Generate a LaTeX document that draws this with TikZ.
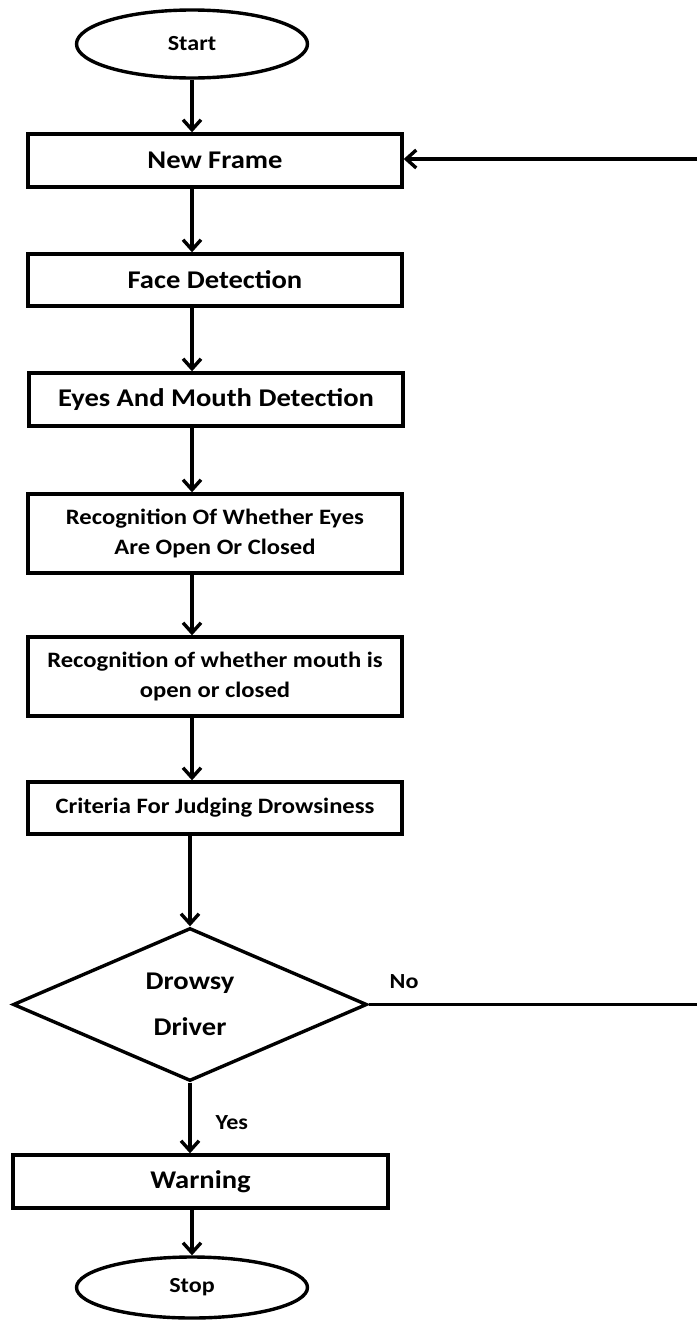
\documentclass[tikz,border=0pt]{standalone}
\usepackage{fontspec}
\setmainfont{Carlito}[FakeStretch=1.12]
\usetikzlibrary{shapes.geometric,arrows.meta}

\begin{document}
\begin{tikzpicture}[x=1pt,y=-1pt,
  line width=3.4pt,
  bigtxt/.style={font=\bfseries\fontsize{25.5}{30}\selectfont},
  smalltxt/.style={font=\bfseries\fontsize{22}{30}\selectfont},
  flowbox/.style={draw, rectangle, minimum width=374pt, inner sep=0pt, align=center},
  term/.style={draw, ellipse, minimum width=231pt, inner sep=0pt,
               font=\bfseries\fontsize{21.5}{26}\selectfont},
  decide/.style={draw, diamond, minimum width=354pt, minimum height=153pt,
                 inner sep=0pt, align=center, font=\bfseries\fontsize{25.5}{46}\selectfont},
  lbl/.style={inner sep=0pt, font=\bfseries\fontsize{21.5}{26}\selectfont},
  arr/.style={-{Straight Barb[length=10pt,width=18pt]}}
]
\useasboundingbox (0,0) rectangle (697,1320);

% process steps
\node[term, minimum height=68pt] (start) at (192,44) {Start};
\node[flowbox, bigtxt, minimum height=53pt] (nf) at (215,160.5) {New Frame};
\node[flowbox, bigtxt, minimum height=52pt] (fd) at (215,280) {Face Detection};
\node[flowbox, bigtxt, minimum height=53pt] (em) at (216,399.5) {Eyes And Mouth Detection};
\node[flowbox, smalltxt, minimum height=79pt] (re) at (215,533.5) {Recognition Of Whether Eyes\\Are Open Or Closed};
\node[flowbox, smalltxt, minimum height=79pt] (rm) at (215,676.5) {Recognition of whether mouth is\\open or closed};
\node[flowbox, smalltxt, minimum height=52pt] (cj) at (215,808) {Criteria For Judging Drowsiness};
\node[decide] (dd) at (190,1004.5) {Drowsy\\Driver};
\node[flowbox, bigtxt, minimum width=375pt, minimum height=53pt] (warn) at (200.5,1181.5) {Warning};
\node[term, minimum height=61pt] (stop) at (192,1287.5) {Stop};

% branch labels
\node[lbl, anchor=west] (nolbl) at (388,982) {No};
\node[lbl, anchor=west] (yeslbl) at (214,1123) {Yes};

% loop ends running off the right edge
\coordinate (loopin) at (697,159);
\coordinate (loopout) at (697,1004.5);

% main flow
\draw[arr] (start.south) -- (start.south |- nf.north);
\draw[arr] (nf.south -| start.south) -- (start.south |- fd.north);
\draw[arr] (fd.south -| start.south) -- (start.south |- em.north);
\draw[arr] (em.south -| start.south) -- (start.south |- re.north);
\draw[arr] (re.south -| start.south) -- (start.south |- rm.north);
\draw[arr] (rm.south -| start.south) -- (start.south |- cj.north);
\draw[arr] (cj.south -| dd.north) -- (dd.north);
\draw[arr] (dd.south) -- (dd.south |- warn.north);
\draw[arr] (warn.south -| start.south) -- (stop.north);

% "No" branch back to a new frame
\draw (dd.east) -- (loopout);
\draw[arr] (loopin) -- (loopin -| nf.east);
\end{tikzpicture}
\end{document}
